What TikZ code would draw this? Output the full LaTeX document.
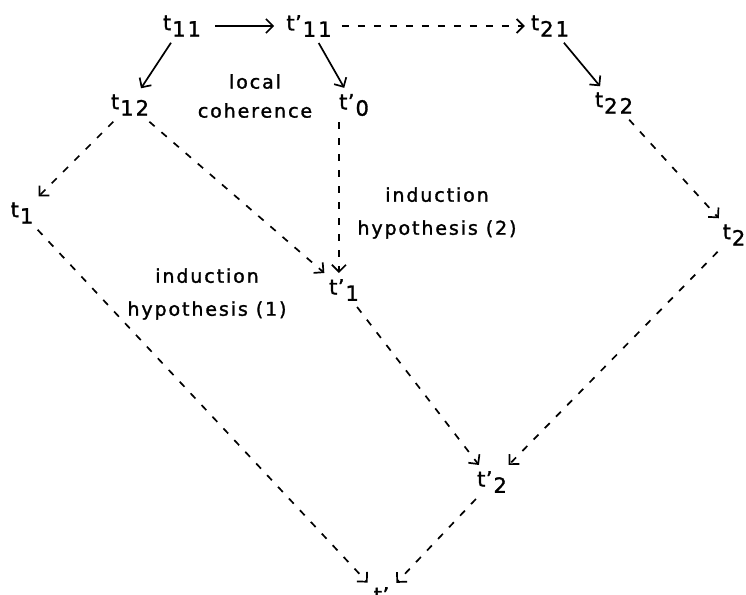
\documentclass[tikz,border=0pt]{standalone}
\usepackage{fontspec}
\setmainfont{DejaVu Sans}[LetterSpace=10,FakeBold=1.5]
\usetikzlibrary{arrows.meta}
\newcommand\tsb[1]{t\kern1pt\raisebox{-0.55ex}{#1}}
\newcommand\tpsb[1]{t\kern0.5pt’\kern1pt\raisebox{-0.55ex}{#1}}
\begin{document}
\begin{tikzpicture}[x=1pt,y=-1pt,
  term/.style={inner sep=6pt,font=\fontsize{21}{22}\selectfont},
  lbl/.style={align=center,font=\fontsize{19}{33}\selectfont},
  tip/.style={-{Straight Barb[length=7pt,width=14pt,line width=1.7pt]}},
  solidarr/.style={line width=1.7pt,tip},
  dasharr/.style={line width=1.7pt,dash pattern=on 7pt off 9pt,tip}]
\useasboundingbox (0,0) rectangle (746,594);
\clip (0,0) rectangle (746,594);
\node[term] (t11) at (182,26) {\tsb{11}};
\node[term] (tp11) at (309,26) {\tpsb{11}};
\node[term] (t21) at (550,26) {\tsb{21}};
\node[term] (t12) at (130,105) {\tsb{12}};
\node[term] (tp0) at (354,105) {\tpsb{0}};
\node[term] (t22) at (614,103) {\tsb{22}};
\node[term] (t1) at (22,213) {\tsb{1}};
\node[term] (t2) at (734,235) {\tsb{2}};
\node[term] (tp1) at (344,290) {\tpsb{1}};
\node[term] (tp2) at (492,482) {\tpsb{2}};
\node[term] (tp) at (382,598) {\tpsb{}};
\node[lbl,font=\fontsize{19}{29}\selectfont] (lc) at (255,96) {local\\coherence};
\node[lbl] (ih2) at (437,213) {induction\\hypothesis (2)};
\node[lbl] (ih1) at (207,294) {induction\\hypothesis (1)};
\path (tp0.south west) ++(6pt,0) coordinate (vs);
\path (tp1.north -| vs) coordinate (vtop);
\draw[solidarr,shorten <=8pt,shorten >=6pt] (t11) -- (tp11);
\draw[dasharr,shorten <=4pt] (tp11) -- (t21);
\draw[solidarr] (t11) -- (t12);
\draw[solidarr] (tp11) -- (tp0);
\draw[solidarr] (t21) -- (t22);
\draw[dasharr] (t12) -- (t1);
\draw[dasharr] (t12) -- (tp1);
\draw[dasharr] (vs) -- (vtop);
\draw[dasharr] (t22) -- (t2);
\draw[dasharr] (t1) -- (tp);
\draw[dasharr] (tp1) -- (tp2);
\draw[dasharr] (t2) -- (tp2);
\draw[dasharr] (tp2) -- (tp);
\end{tikzpicture}
\end{document}
